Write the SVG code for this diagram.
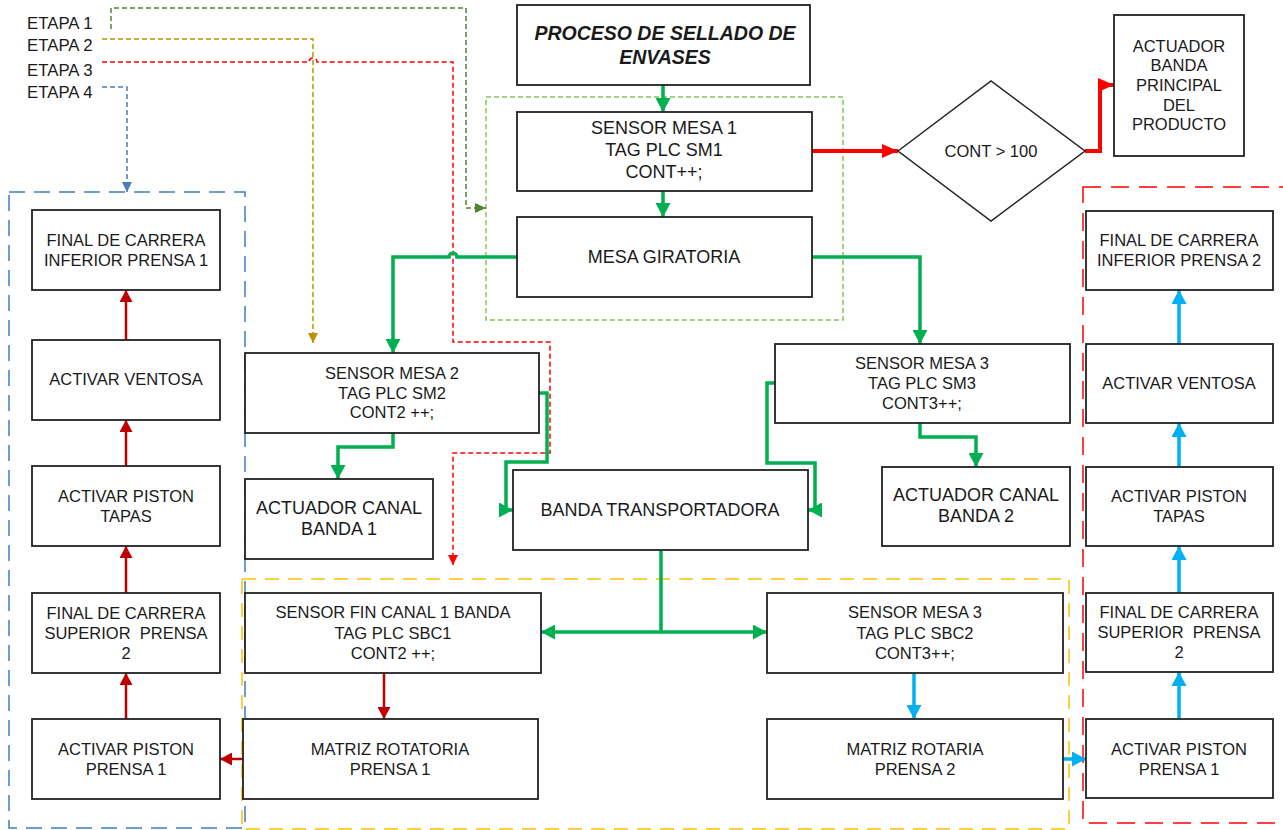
<svg xmlns="http://www.w3.org/2000/svg" width="1283" height="830" viewBox="0 0 1283 830">
<style>
text{font-family:"Liberation Sans",Arial,sans-serif;fill:#1a1a1a;text-anchor:middle;dominant-baseline:central;font-size:16.5px}
.lbl{text-anchor:start;font-size:16.8px}
.big{font-size:18px}
.title{font-size:19.5px;font-weight:bold;font-style:italic}
.box{fill:#fff;stroke:#222;stroke-width:1.8}
.cg{fill:none;stroke:#00B050;stroke-width:3.5}
.cr{fill:none;stroke:#FF0000;stroke-width:4}
.cdr{fill:none;stroke:#C00000;stroke-width:2.5}
.cb{fill:none;stroke:#00B0F0;stroke-width:3.5}
.dsh{fill:none;stroke-width:1.5;stroke-dasharray:5 3}
.cont{fill:none;stroke-width:1.5}
</style>
<defs>
<marker id="ag" viewBox="0 0 14 15" refX="14" refY="7.5" markerWidth="14" markerHeight="15" markerUnits="userSpaceOnUse" orient="auto"><path d="M0,0 L14,7.5 L0,15 z" fill="#00B050"/></marker>
<marker id="ar" viewBox="0 0 16 14" refX="16" refY="7" markerWidth="16" markerHeight="14" markerUnits="userSpaceOnUse" orient="auto"><path d="M0,0 L16,7 L0,14 z" fill="#FF0000"/></marker>
<marker id="adr" viewBox="0 0 12 13" refX="12" refY="6.5" markerWidth="12" markerHeight="13" markerUnits="userSpaceOnUse" orient="auto"><path d="M0,0 L12,6.5 L0,13 z" fill="#C00000"/></marker>
<marker id="ab" viewBox="0 0 14 15" refX="14" refY="7.5" markerWidth="14" markerHeight="15" markerUnits="userSpaceOnUse" orient="auto"><path d="M0,0 L14,7.5 L0,15 z" fill="#00B0F0"/></marker>
<marker id="d1" viewBox="0 0 11 10" refX="11" refY="5" markerWidth="11" markerHeight="10" markerUnits="userSpaceOnUse" orient="auto"><path d="M0,0 L11,5 L0,10 z" fill="#548235"/></marker>
<marker id="d2" viewBox="0 0 10 10" refX="10" refY="5" markerWidth="10" markerHeight="10" markerUnits="userSpaceOnUse" orient="auto"><path d="M0,0 L10,5 L0,10 z" fill="#BF9000"/></marker>
<marker id="d3" viewBox="0 0 10 10" refX="10" refY="5" markerWidth="10" markerHeight="10" markerUnits="userSpaceOnUse" orient="auto"><path d="M0,0 L10,5 L0,10 z" fill="#FF0000"/></marker>
<marker id="d4" viewBox="0 0 10 10" refX="10" refY="5" markerWidth="10" markerHeight="10" markerUnits="userSpaceOnUse" orient="auto"><path d="M0,0 L10,5 L0,10 z" fill="#4A7EBB"/></marker>
</defs>
<rect width="1283" height="830" fill="#fff"/>
<g id="containers">
<rect x="486" y="97" width="357" height="223" class="cont" stroke="#84C45A" stroke-width="1" stroke-dasharray="5 3"/>
<rect x="9" y="192" width="236" height="636" class="cont" stroke="#3E7CC0" stroke-dasharray="16 9"/>
<rect x="242" y="579" width="827" height="250" class="cont" stroke="#FFC000" stroke-dasharray="14 9"/>
<rect x="1083" y="187" width="212" height="636" class="cont" stroke="#FF0000" stroke-dasharray="18 10"/>
</g>
<g id="labels">
<text class="lbl" x="27" y="23">ETAPA 1</text>
<text class="lbl" x="27" y="45">ETAPA 2</text>
<text class="lbl" x="27" y="70">ETAPA 3</text>
<text class="lbl" x="27" y="92">ETAPA 4</text>
</g>
<g id="connectors">
<path class="dsh" stroke="#548235" d="M111,29 V8 H466 V208 H486" marker-end="url(#d1)"/>
<path class="dsh" stroke="#BF9000" d="M102,39 H313 V343" marker-end="url(#d2)"/>
<path class="dsh" stroke="#FF0000" d="M102,62 H309 A4,4 0 0 1 317,62 H453 V342 H550 V453 H453 V565" marker-end="url(#d3)"/>
<path class="dsh" stroke="#4A7EBB" d="M102,87 H127 V192" marker-end="url(#d4)"/>
<path class="cg" d="M663,85 V112" marker-end="url(#ag)"/>
<path class="cg" d="M663,191 V217" marker-end="url(#ag)"/>
<path class="cg" d="M517,257 H457 A4,4 0 0 0 449,257 H393 V353" marker-end="url(#ag)"/>
<path class="cg" d="M812,257 H920 V344" marker-end="url(#ag)"/>
<path class="cg" d="M393,433 V447 H338 V479" marker-end="url(#ag)"/>
<path class="cg" d="M539,393 H547 V462 H506 V510 H513" marker-end="url(#ag)"/>
<path class="cg" d="M775,383 H767 V463 H815 V510 H808" marker-end="url(#ag)"/>
<path class="cg" d="M920,423 V437 H976 V467" marker-end="url(#ag)"/>
<path class="cg" d="M661,550 V632"/>
<path class="cg" d="M661,632 H541" marker-end="url(#ag)"/>
<path class="cg" d="M661,632 H767" marker-end="url(#ag)"/>
<path class="cr" d="M812,151 H898" marker-end="url(#ar)"/>
<path class="cr" d="M1085,151 H1100 V85 H1114" marker-end="url(#ar)"/>
<path class="cdr" d="M126,340 V290" marker-end="url(#adr)"/>
<path class="cdr" d="M126,466 V420" marker-end="url(#adr)"/>
<path class="cdr" d="M126,593 V546" marker-end="url(#adr)"/>
<path class="cdr" d="M126,719 V673" marker-end="url(#adr)"/>
<path class="cdr" d="M384,673 V719" marker-end="url(#adr)"/>
<path class="cdr" d="M243,759 H220" marker-end="url(#adr)"/>
<path class="cb" d="M1179,344 V290" marker-end="url(#ab)"/>
<path class="cb" d="M1179,467 V423" marker-end="url(#ab)"/>
<path class="cb" d="M1179,593 V546" marker-end="url(#ab)"/>
<path class="cb" d="M1179,719 V672" marker-end="url(#ab)"/>
<path class="cb" d="M914,673 V719" marker-end="url(#ab)"/>
<path class="cb" d="M1063,759 H1086" marker-end="url(#ab)"/>
</g>
<g id="n_title"><rect class="box" x="517" y="5" width="293" height="80"/><text class="title" x="665" y="33">PROCESO DE SELLADO DE</text><text class="title" x="665" y="57">ENVASES</text></g>
<g id="n_sm1"><rect class="box" x="517" y="112" width="295" height="79"/><text class="big" x="664" y="128">SENSOR MESA 1</text><text class="big" x="664" y="150">TAG PLC SM1</text><text class="big" x="664" y="172">CONT++;</text></g>
<g id="n_mesa"><rect class="box" x="517" y="217" width="295" height="80"/><text class="big" x="664" y="257">MESA GIRATORIA</text></g>
<g id="n_cont"><polygon points="898,151 991,81 1085,151 991,221" fill="#fff" stroke="#222" stroke-width="1.5"/><text x="991" y="151">CONT &gt; 100</text></g>
<g id="n_act_principal"><rect class="box" x="1114" y="15" width="130" height="141"/><text x="1179" y="46">ACTUADOR</text><text x="1179" y="65">BANDA</text><text x="1179" y="85">PRINCIPAL</text><text x="1179" y="105">DEL</text><text x="1179" y="124">PRODUCTO</text></g>
<g id="n_sm2"><rect class="box" x="245" y="353" width="294" height="80"/><text x="392" y="373">SENSOR MESA 2</text><text x="392" y="393">TAG PLC SM2</text><text x="392" y="412">CONT2 ++;</text></g>
<g id="n_acb1"><rect class="box" x="245" y="479" width="188" height="80"/><text class="big" x="339" y="508">ACTUADOR CANAL</text><text class="big" x="339" y="529">BANDA 1</text></g>
<g id="n_banda"><rect class="box" x="513" y="470" width="295" height="80"/><text class="big" x="660" y="510">BANDA TRANSPORTADORA</text></g>
<g id="n_sm3"><rect class="box" x="775" y="344" width="295" height="79"/><text x="922" y="363">SENSOR MESA 3</text><text x="922" y="383">TAG PLC SM3</text><text x="922" y="403">CONT3++;</text></g>
<g id="n_acb2"><rect class="box" x="882" y="467" width="188" height="79"/><text class="big" x="976" y="495">ACTUADOR CANAL</text><text class="big" x="976" y="516">BANDA 2</text></g>
<g id="n_sbc1"><rect class="box" x="245" y="593" width="296" height="80"/><text x="393" y="612">SENSOR FIN CANAL 1 BANDA</text><text x="393" y="633">TAG PLC SBC1</text><text x="393" y="653">CONT2 ++;</text></g>
<g id="n_mat1"><rect class="box" x="243" y="719" width="295" height="80"/><text x="390" y="749">MATRIZ ROTATORIA</text><text x="390" y="769">PRENSA 1</text></g>
<g id="n_sbc2"><rect class="box" x="767" y="593" width="296" height="80"/><text x="915" y="612">SENSOR MESA 3</text><text x="915" y="633">TAG PLC SBC2</text><text x="915" y="653">CONT3++;</text></g>
<g id="n_mat2"><rect class="box" x="767" y="719" width="296" height="80"/><text x="915" y="749">MATRIZ ROTARIA</text><text x="915" y="769">PRENSA 2</text></g>
<g id="n_l1"><rect class="box" x="32" y="210" width="188" height="80"/><text x="126" y="240">FINAL DE CARRERA</text><text x="126" y="260">INFERIOR PRENSA 1</text></g>
<g id="n_l2"><rect class="box" x="32" y="340" width="188" height="80"/><text x="126" y="379">ACTIVAR VENTOSA</text></g>
<g id="n_l3"><rect class="box" x="32" y="466" width="188" height="80"/><text x="126" y="496">ACTIVAR PISTON</text><text x="126" y="516">TAPAS</text></g>
<g id="n_l4"><rect class="box" x="32" y="593" width="188" height="80"/><text x="126" y="613">FINAL DE CARRERA</text><text x="126" y="633" xml:space="preserve">SUPERIOR  PRENSA</text><text x="126" y="653">2</text></g>
<g id="n_l5"><rect class="box" x="32" y="719" width="188" height="80"/><text x="126" y="749">ACTIVAR PISTON</text><text x="126" y="769">PRENSA 1</text></g>
<g id="n_r1"><rect class="box" x="1086" y="211" width="187" height="79"/><text x="1179" y="240">FINAL DE CARRERA</text><text x="1179" y="260">INFERIOR PRENSA 2</text></g>
<g id="n_r2"><rect class="box" x="1086" y="344" width="187" height="79"/><text x="1179" y="383">ACTIVAR VENTOSA</text></g>
<g id="n_r3"><rect class="box" x="1086" y="467" width="187" height="79"/><text x="1179" y="496">ACTIVAR PISTON</text><text x="1179" y="516">TAPAS</text></g>
<g id="n_r4"><rect class="box" x="1086" y="593" width="187" height="79"/><text x="1179" y="612">FINAL DE CARRERA</text><text x="1179" y="632" xml:space="preserve">SUPERIOR  PRENSA</text><text x="1179" y="652">2</text></g>
<g id="n_r5"><rect class="box" x="1086" y="719" width="187" height="79"/><text x="1179" y="749">ACTIVAR PISTON</text><text x="1179" y="769">PRENSA 1</text></g>
</svg>
